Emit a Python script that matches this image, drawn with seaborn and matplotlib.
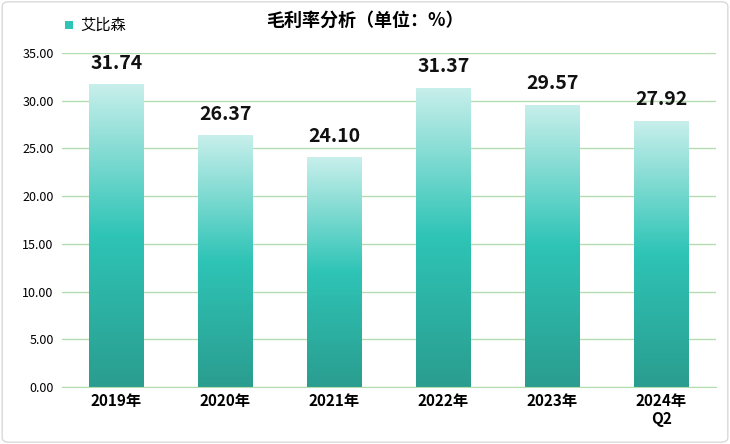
import numpy as np
import pandas as pd
import matplotlib.pyplot as plt
import seaborn as sns
from matplotlib.colors import LinearSegmentedColormap
from matplotlib.patches import FancyBboxPatch

plt.rcParams['font.family'] = ['Noto Sans CJK SC', 'DejaVu Sans']

# data
years = ['2019年', '2020年', '2021年', '2022年', '2023年', '2024年\nQ2']
margin = [31.74, 26.37, 24.10, 31.37, 29.57, 27.92]
series_name = '艾比森'

df = pd.DataFrame({'year': years, 'margin': margin})

fig = plt.figure(figsize=(7.30, 4.44), dpi=100)
ax = fig.add_axes([62 / 730, 1 - 387 / 444, 654 / 730, 334 / 444])

sns.barplot(data=df, x='year', y='margin', ax=ax, width=0.5, color='#2ec4b6')

# vertical gradient fill per bar
cmap = LinearSegmentedColormap.from_list('g', ['#2a9d8f', '#2ec4b6', '#c8efeb'])
grad = np.linspace(0, 1, 256).reshape(-1, 1)
for p in ax.patches:
    x0, w, h = p.get_x(), p.get_width(), p.get_height()
    im = ax.imshow(grad, extent=[x0, x0 + w, 0, h], origin='lower', aspect='auto',
                   cmap=cmap, zorder=2)
    im.set_clip_path(p)
    p.set_facecolor('none')
    ax.text(x0 + w / 2, h + 1.2, f'{h:.2f}', ha='center', va='bottom',
            fontsize=14, fontweight='bold', color='#111111')

ax.set_xlim(-0.5, len(years) - 0.5)
ax.set_ylim(0, 35)
ax.set_yticks(np.arange(0, 35.01, 5))
ax.set_yticklabels([f'{v:.2f}' for v in np.arange(0, 35.01, 5)], fontsize=9)
ax.yaxis.grid(True, color='#b3dcb0', linewidth=1)
ax.set_axisbelow(True)
ax.tick_params(axis='y', length=0, pad=6)
ax.tick_params(axis='x', length=0, pad=4)
for lbl in ax.get_xticklabels():
    lbl.set_fontweight('bold')
    lbl.set_fontsize(11)
ax.set_xlabel('')
ax.set_ylabel('')
for s in ['top', 'left', 'right']:
    ax.spines[s].set_visible(False)
ax.spines['bottom'].set_color('#b3dcb0')

fig.text(0.5, 0.955, '毛利率分析（单位：%）', ha='center', va='center',
         fontsize=13, fontweight='bold')
fig.patches.append(FancyBboxPatch((65 / 730, 1 - 29 / 444), 8 / 730, 8 / 444,
                                  boxstyle='square,pad=0', transform=fig.transFigure,
                                  facecolor='#2ec4b6', edgecolor='none'))
fig.text(80 / 730, 1 - 25 / 444, series_name, va='center', fontsize=11)
fig.patches.append(FancyBboxPatch((0.003, 0.004), 0.994, 0.992,
                                  boxstyle='round,pad=0,rounding_size=0.01',
                                  transform=fig.transFigure, facecolor='none',
                                  edgecolor='#d9d9d9', linewidth=1))

fig.savefig('out.png', dpi=100)
